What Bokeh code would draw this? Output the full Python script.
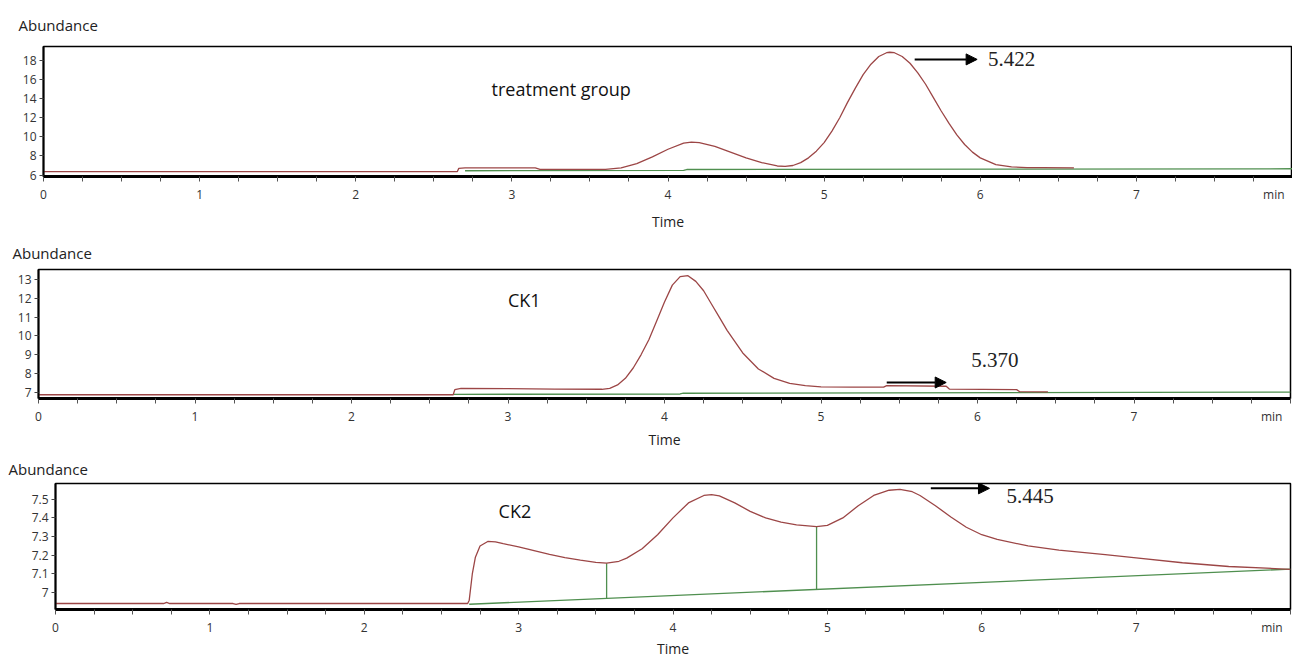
from bokeh.plotting import figure
from bokeh.models import FixedTicker, Label, Arrow, NormalHead, Range1d
from bokeh.embed import file_html
from bokeh.resources import INLINE

# ---------------- data ----------------
x_major_ticks = [0, 1, 2, 3, 4, 5, 6, 7, 7.88]
x_tick_labels = {7.88: "min"}
x_minor_ticks = [0.25 * i for i in range(33)]

# Panel 1 : treatment group
t1_time = [0, 2.65, 2.66, 2.7, 3.15, 3.18, 3.6, 3.7, 3.8, 3.9, 4.0, 4.1, 4.15, 4.2, 4.3, 4.4, 4.5,
           4.6, 4.7, 4.75, 4.8, 4.85, 4.9, 4.95, 5.0, 5.05, 5.1, 5.15, 5.2, 5.25, 5.3, 5.35, 5.4,
           5.42, 5.45, 5.5, 5.55, 5.6, 5.65, 5.7, 5.75, 5.8, 5.85, 5.9, 5.95, 6.0, 6.1, 6.2, 6.3,
           6.4, 6.6]
t1_abund = [6.35, 6.35, 6.7, 6.75, 6.75, 6.6, 6.6, 6.75, 7.2, 7.9, 8.7, 9.35, 9.45, 9.4, 9.0, 8.4,
            7.8, 7.3, 6.95, 6.9, 7.0, 7.3, 7.8, 8.5, 9.4, 10.6, 12.0, 13.6, 15.1, 16.5, 17.6, 18.4,
            18.8, 18.85, 18.8, 18.4, 17.7, 16.7, 15.5, 14.1, 12.7, 11.4, 10.2, 9.2, 8.4, 7.8, 7.1,
            6.85, 6.78, 6.78, 6.75]
t1_base_time = [2.7, 4.1, 4.12, 8.0]
t1_base_abund = [6.45, 6.5, 6.58, 6.66]
t1_yticks = [6, 8, 10, 12, 14, 16, 18]

# Panel 2 : CK1
t2_time = [0, 2.65, 2.66, 2.7, 3.0, 3.3, 3.6, 3.65, 3.7, 3.75, 3.8, 3.85, 3.9, 3.95, 4.0, 4.05,
           4.1, 4.15, 4.2, 4.25, 4.3, 4.35, 4.4, 4.5, 4.6, 4.7, 4.8, 4.9, 5.0, 5.2, 5.4, 5.42,
           5.8, 5.82, 6.25, 6.27, 6.45]
t2_abund = [6.88, 6.88, 7.15, 7.22, 7.2, 7.18, 7.17, 7.22, 7.4, 7.75, 8.3, 9.0, 9.8, 10.8, 11.8,
            12.7, 13.15, 13.2, 12.9, 12.4, 11.7, 11.0, 10.3, 9.1, 8.25, 7.75, 7.48, 7.36, 7.3,
            7.28, 7.28, 7.36, 7.33, 7.18, 7.15, 7.04, 7.03]
t2_base_time = [2.65, 4.1, 4.12, 8.0]
t2_base_abund = [6.9, 6.92, 6.96, 7.02]
t2_yticks = [7, 8, 9, 10, 11, 12, 13]

# Panel 3 : CK2
t3_time = [0, 0.7, 0.72, 0.74, 1.15, 1.17, 1.19, 2.67, 2.68, 2.70, 2.72, 2.75, 2.8, 2.85, 2.9,
           3.0, 3.1, 3.2, 3.3, 3.4, 3.5, 3.57, 3.65, 3.7, 3.8, 3.9, 4.0, 4.1, 4.2, 4.25, 4.3, 4.4,
           4.5, 4.6, 4.7, 4.8, 4.93, 5.0, 5.1, 5.2, 5.3, 5.4, 5.47, 5.55, 5.6, 5.7, 5.8, 5.9, 6.0,
           6.1, 6.3, 6.5, 6.8, 7.0, 7.3, 7.6, 8.0]
t3_abund = [6.942, 6.942, 6.948, 6.942, 6.942, 6.937, 6.942, 6.942, 6.96, 7.10, 7.19, 7.25, 7.274,
            7.272, 7.262, 7.245, 7.225, 7.205, 7.188, 7.174, 7.162, 7.158, 7.168, 7.185, 7.235,
            7.31, 7.40, 7.48, 7.52, 7.525, 7.518, 7.48, 7.435, 7.40, 7.377, 7.363, 7.353, 7.36,
            7.40, 7.465, 7.52, 7.548, 7.553, 7.54, 7.52, 7.465, 7.405, 7.35, 7.31, 7.285, 7.25,
            7.228, 7.203, 7.186, 7.16, 7.14, 7.125]
t3_base_time = [2.68, 8.0]
t3_base_abund = [6.938, 7.126]
t3_drop_time = [3.57, 4.93]
t3_drop_low = [6.969, 7.018]
t3_drop_high = [7.158, 7.353]
t3_yticks = [7, 7.1, 7.2, 7.3, 7.4, 7.5]

# ---------------- styling ----------------
SANS = "Open Sans"
SERIF = "Liberation Serif"
TRACE = "#9c4646"
BASE = "#4f8f4f"
TOTAL_W = 1292


def make_panel(b_top, frame_h, b_bottom, b_left, frame_w, y_range, y_ticks, y_over,
               title_offset, title_standoff, label_standoff):
    p = figure(frame_width=frame_w, frame_height=frame_h,
               output_backend="svg", toolbar_location=None,
               x_range=Range1d(0, 8), y_range=Range1d(*y_range),
               min_border_top=b_top, min_border_bottom=b_bottom,
               min_border_left=b_left, min_border_right=TOTAL_W - b_left - frame_w,
               title="Abundance")
    p.title.text_font = SANS
    p.title.text_font_size = "15px"
    p.title.text_font_style = "normal"
    p.title.text_color = "#222222"
    p.title.align = "left"
    p.title.offset = title_offset
    p.title.standoff = title_standoff
    p.grid.visible = False
    p.outline_line_color = "black"
    p.outline_line_width = 1.5
    p.background_fill_color = "white"
    p.border_fill_color = "white"

    xa = p.xaxis[0]
    xa.ticker = FixedTicker(ticks=x_major_ticks, minor_ticks=x_minor_ticks)
    xa.major_label_overrides = x_tick_labels
    xa.axis_line_width = 3
    xa.axis_line_color = "black"
    xa.major_tick_in = 0
    xa.major_tick_out = 0
    xa.minor_tick_in = 0
    xa.minor_tick_out = 5
    xa.minor_tick_line_color = "#555555"
    xa.major_label_text_font = SANS
    xa.major_label_text_font_size = "12px"
    xa.major_label_text_color = "#333333"
    xa.major_label_standoff = 4
    xa.axis_label = "Time"
    xa.axis_label_text_font = SANS
    xa.axis_label_text_font_size = "14px"
    xa.axis_label_text_font_style = "normal"
    xa.axis_label_text_color = "#222222"
    xa.axis_label_standoff = label_standoff

    ya = p.yaxis[0]
    ya.ticker = FixedTicker(ticks=y_ticks, minor_ticks=[])
    if y_over:
        ya.major_label_overrides = y_over
    ya.axis_line_width = 2
    ya.axis_line_color = "black"
    ya.major_tick_in = 0
    ya.major_tick_out = 4
    ya.major_tick_line_color = "#444444"
    ya.major_label_text_font = SANS
    ya.major_label_text_font_size = "12px"
    ya.major_label_text_color = "#333333"
    ya.major_label_standoff = 3
    return p


def add_arrow(p, x0, x1, y, txt, tx, ty):
    p.add_layout(Arrow(end=NormalHead(size=11, fill_color="black", line_color="black"),
                       x_start=x0, x_end=x1, y_start=y, y_end=y,
                       line_color="black", line_width=2))
    p.add_layout(Label(x=tx, y=ty, text=txt, text_font=SERIF, text_font_size="21px",
                       text_color="#222222", text_baseline="middle"))


def add_name(p, x, y, txt):
    p.add_layout(Label(x=x, y=y, text=txt, text_font=SANS, text_font_size="18px",
                       text_color="#111111", text_baseline="middle"))


# Panel 1
p1 = make_panel(46, 130, 56, 43, 1249, (5.85, 19.45), t1_yticks, None, -25, 24, 6)
p1.line(t1_base_time, t1_base_abund, line_color=BASE, line_width=1.3)
p1.line(t1_time, t1_abund, line_color=TRACE, line_width=1.3)
add_name(p1, 2.87, 14.98, "treatment group")
add_arrow(p1, 5.58, 5.98, 18.1, "5.422", 6.05, 18.1)

# Panel 2
p2 = make_panel(36, 129, 50, 38, 1252, (6.68, 13.53), t2_yticks, None, -26, 14, 2)
p2.line(t2_base_time, t2_base_abund, line_color=BASE, line_width=1.3)
p2.line(t2_time, t2_abund, line_color=TRACE, line_width=1.3)
add_name(p2, 3.0, 11.89, "CK1")
add_arrow(p2, 5.42, 5.8, 7.53, "5.370", 5.96, 8.75)

# Panel 3
p3 = make_panel(32, 126, 44, 55, 1235, (6.91, 7.584), t3_yticks, {7: "7"}, -47, 10, 0)
p3.line(t3_base_time, t3_base_abund, line_color=BASE, line_width=1.3)
p3.segment(x0=t3_drop_time, y0=t3_drop_low, x1=t3_drop_time, y1=t3_drop_high,
           line_color=BASE, line_width=1.3)
p3.line(t3_time, t3_abund, line_color=TRACE, line_width=1.3)
add_name(p3, 2.87, 7.437, "CK2")
add_arrow(p3, 5.67, 6.05, 7.558, "5.445", 6.16, 7.516)

open("out.html", "w").write(file_html([p1, p2, p3], INLINE))
